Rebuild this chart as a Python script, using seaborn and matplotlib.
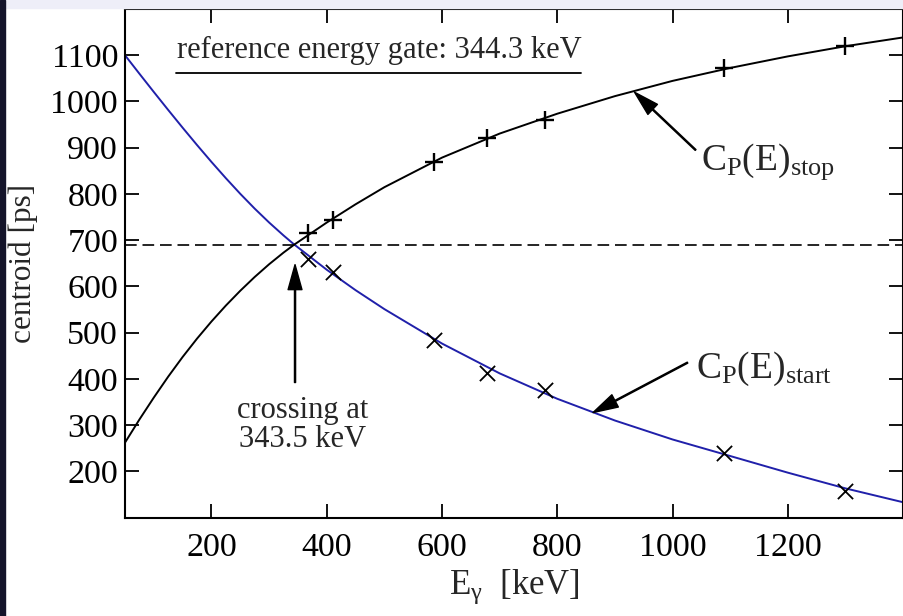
import matplotlib
matplotlib.use("Agg")
import matplotlib.pyplot as plt
import seaborn as sns
from matplotlib.patches import Rectangle

# ---- data ----
energies = [367.8, 411.1, 586.3, 678.6, 778.9, 1089.7, 1299.1]
stop_centroid = [716, 744, 870, 920, 960, 1073, 1119]
start_centroid = [659, 630, 483, 413, 375, 240, 157]

fit_energy = [50, 75, 100, 125, 150, 175, 200, 225, 250, 275, 300, 325, 343.5,
              400, 450, 500, 600, 700, 800, 900, 1000, 1100, 1200, 1300, 1400]
stop_fit = [262, 312, 359.5, 404.8, 447.3, 487, 524, 558.5, 590.5, 620.3, 647.8,
            673, 690.2, 738, 777.5, 814.5, 878.5, 930.5, 973.5, 1011.5, 1044.5,
            1072.5, 1097.5, 1119.5, 1138.5]
start_fit = [1100, 1060, 1020.5, 981.5, 943.2, 905.7, 869.2, 834, 800.2, 768.2,
             738.2, 710.2, 690.6, 636, 591.8, 550.8, 476.3, 411.8, 356.8, 309.8,
             268.8, 233, 197, 163, 133]

crossing_centroid = 690
x_ticks = [200, 400, 600, 800, 1000, 1200]
y_ticks = [200, 300, 400, 500, 600, 700, 800, 900, 1000, 1100]

sns.set_theme(style="ticks")
plt.rcParams["font.family"] = ["Liberation Serif", "DejaVu Serif"]
plt.rcParams["mathtext.fontset"] = "custom"
plt.rcParams["mathtext.rm"] = "Liberation Serif"
plt.rcParams["mathtext.it"] = "Liberation Serif:italic"
plt.rcParams["mathtext.bf"] = "Liberation Serif:bold"

W, H = 904, 616
fig = plt.figure(figsize=(W / 100, H / 100), dpi=100)
fig.patch.set_facecolor("white")
fig.patches.append(Rectangle((0, 1 - 8 / H), 1, 8 / H, transform=fig.transFigure,
                             color="#eeeef8", zorder=0))
fig.patches.append(Rectangle((0, 0), 5 / W, 1, transform=fig.transFigure,
                             color="#14142a", zorder=0))

ax = fig.add_axes([125 / W, 1 - 517.5 / H, 1 - 125 / W - 0.001, (517.5 - 9) / H])

blue = "#2020aa"
sns.lineplot(x=fit_energy, y=start_fit, color=blue, lw=1.4, ax=ax, sort=False)
sns.lineplot(x=fit_energy, y=stop_fit, color="black", lw=1.4, ax=ax, sort=False)
sns.scatterplot(x=energies, y=stop_centroid, marker="+", s=170, color="black",
                linewidth=1.7, ax=ax, zorder=5)
sns.scatterplot(x=energies, y=start_centroid, marker="x", s=120, color="black",
                linewidth=1.3, ax=ax, zorder=5)

ax.axhline(crossing_centroid, ls=(0, (7, 3.5)), color="black", lw=1.2)

ax.set_xlim(50, 1400)
ax.set_ylim(100, 1200)
ax.set_xticks(x_ticks)
ax.set_yticks(y_ticks)
ax.minorticks_off()
ax.tick_params(direction="in", length=10, width=1.3, top=True, right=True,
               labelsize=24.5, colors="black")
ax.tick_params(axis="x", pad=11)
ax.tick_params(axis="y", pad=5)
for sp in ax.spines.values():
    sp.set_linewidth(1.5)
    sp.set_color("black")

ax.set_xlabel(r"$\mathregular{E_{γ}}$  [keV]", fontsize=25, labelpad=3)
ax.set_ylabel("centroid [ps]", fontsize=22.5, labelpad=9)

# reference gate annotation
ax.text(141, 1094, "reference energy gate: 344.3 keV", fontsize=22,
        ha="left", va="baseline")
ax.plot([138, 841], [1061, 1061], color="black", lw=1.3)

# crossing annotation
arrow_kw = dict(facecolor="black", edgecolor="black", width=0.8, headwidth=10,
                headlength=18, shrink=0)
ax.annotate("", xy=(345, 647), xytext=(345, 392), arrowprops=arrow_kw)
ax.text(358, 301, "crossing at\n343.5 keV", fontsize=22, ha="center",
        va="center", linespacing=1.0)

# curve labels
ax.annotate("", xy=(934, 1020), xytext=(1040, 895), arrowprops=arrow_kw)
ax.text(1050, 852, r"$\mathregular{C_P(E)_{stop}}$", fontsize=27,
        ha="left", va="baseline")
ax.annotate("", xy=(862, 327), xytext=(1026, 435), arrowprops=arrow_kw)
ax.text(1040, 403, r"$\mathregular{C_P(E)_{start}}$", fontsize=27,
        ha="left", va="baseline")

fig.savefig("out.png", dpi=100)
